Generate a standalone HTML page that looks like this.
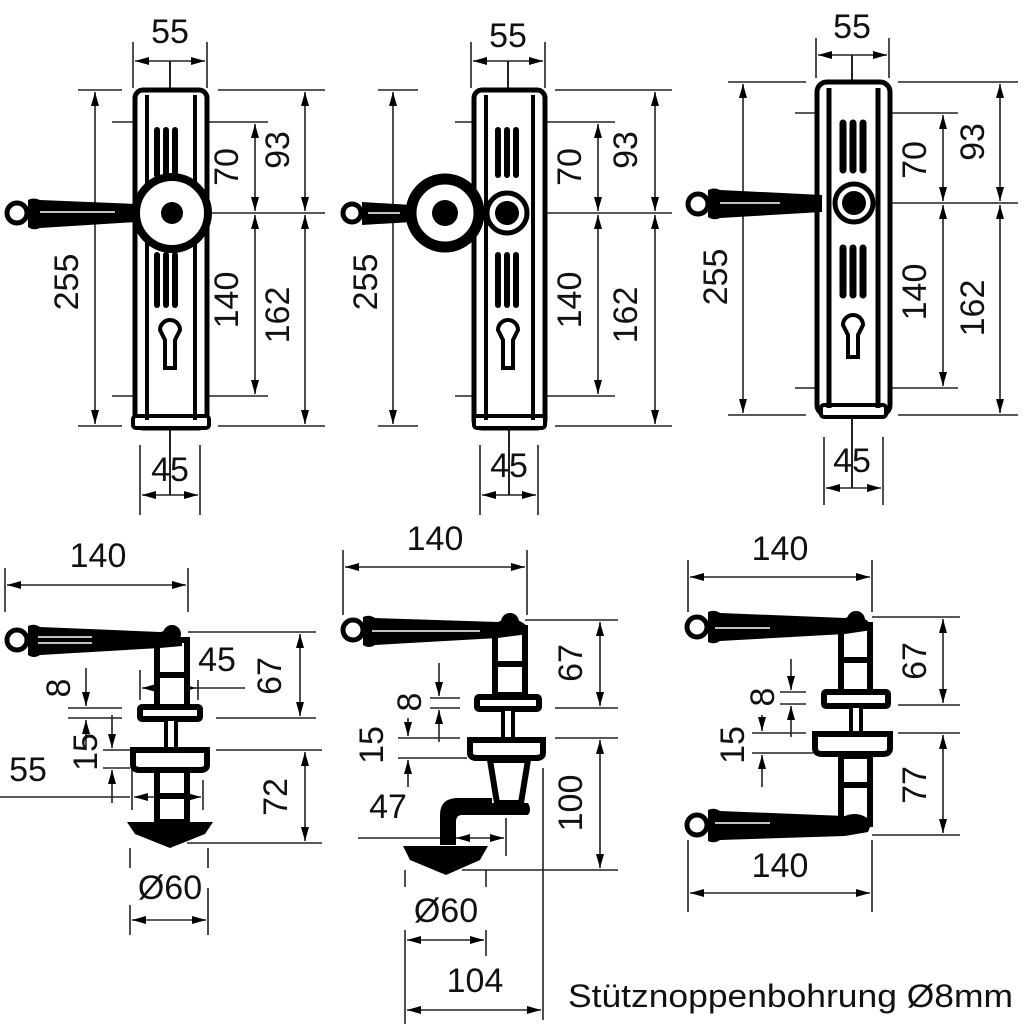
<!DOCTYPE html>
<html><head><meta charset="utf-8"><style>
html,body{margin:0;padding:0;background:#fff;}
svg{display:block;}
text{font-family:"Liberation Sans",sans-serif;font-size:34px;fill:#111;}
</style></head><body>
<svg width="1024" height="1024" viewBox="0 0 1024 1024" xmlns="http://www.w3.org/2000/svg">
<defs>
<marker id="a" viewBox="0 0 14 8" refX="14" refY="4" markerWidth="14" markerHeight="8" markerUnits="userSpaceOnUse" orient="auto-start-reverse"><path d="M0,0 L14,4 L0,8 Z" fill="#000"/></marker>
</defs>
<g stroke="#222" stroke-width="1.6" fill="none">
<!-- ===== TOP 1 ===== -->
<line x1="133" y1="42" x2="133" y2="88"/><line x1="207" y1="42" x2="207" y2="88"/>
<line x1="135" y1="61" x2="205" y2="61" marker-start="url(#a)" marker-end="url(#a)"/>
<line x1="170" y1="61" x2="170" y2="95" stroke-width="2"/>
<line x1="78" y1="90" x2="122" y2="90"/><line x1="78" y1="426" x2="122" y2="426"/>
<line x1="95" y1="92" x2="95" y2="424" marker-start="url(#a)" marker-end="url(#a)"/>
<line x1="218" y1="90" x2="325" y2="90"/><line x1="218" y1="426" x2="325" y2="426"/>
<line x1="112" y1="122" x2="268" y2="122"/><line x1="112" y1="396" x2="268" y2="396"/>
<line x1="185" y1="213" x2="325" y2="213"/>
<line x1="255" y1="124" x2="255" y2="211" marker-start="url(#a)" marker-end="url(#a)"/>
<line x1="255" y1="215" x2="255" y2="394" marker-start="url(#a)" marker-end="url(#a)"/>
<line x1="305" y1="92" x2="305" y2="211" marker-start="url(#a)" marker-end="url(#a)"/>
<line x1="305" y1="215" x2="305" y2="424" marker-start="url(#a)" marker-end="url(#a)"/>
<line x1="140" y1="445" x2="140" y2="515"/><line x1="200" y1="445" x2="200" y2="515"/>
<line x1="142" y1="495" x2="198" y2="495" marker-start="url(#a)" marker-end="url(#a)"/>
<line x1="170" y1="420" x2="170" y2="495" stroke-width="2"/>
<!-- ===== TOP 2 ===== -->
<line x1="471" y1="42" x2="471" y2="88"/><line x1="545" y1="42" x2="545" y2="88"/>
<line x1="473" y1="61" x2="543" y2="61" marker-start="url(#a)" marker-end="url(#a)"/>
<line x1="508" y1="61" x2="508" y2="95" stroke-width="2"/>
<line x1="378" y1="90" x2="418" y2="90"/><line x1="378" y1="426" x2="418" y2="426"/>
<line x1="393" y1="92" x2="393" y2="424" marker-start="url(#a)" marker-end="url(#a)"/>
<line x1="555" y1="90" x2="672" y2="90"/><line x1="555" y1="426" x2="672" y2="426"/>
<line x1="455" y1="122" x2="615" y2="122"/><line x1="455" y1="396" x2="615" y2="396"/>
<line x1="525" y1="213" x2="672" y2="213"/>
<line x1="598" y1="124" x2="598" y2="211" marker-start="url(#a)" marker-end="url(#a)"/>
<line x1="598" y1="215" x2="598" y2="394" marker-start="url(#a)" marker-end="url(#a)"/>
<line x1="655" y1="92" x2="655" y2="211" marker-start="url(#a)" marker-end="url(#a)"/>
<line x1="655" y1="215" x2="655" y2="424" marker-start="url(#a)" marker-end="url(#a)"/>
<line x1="480" y1="445" x2="480" y2="515"/><line x1="538" y1="445" x2="538" y2="515"/>
<line x1="482" y1="495" x2="536" y2="495" marker-start="url(#a)" marker-end="url(#a)"/>
<line x1="509" y1="420" x2="509" y2="495" stroke-width="2"/>
<!-- ===== TOP 3 ===== -->
<line x1="816" y1="38" x2="816" y2="78"/><line x1="889" y1="38" x2="889" y2="78"/>
<line x1="818" y1="55" x2="887" y2="55" marker-start="url(#a)" marker-end="url(#a)"/>
<line x1="852" y1="55" x2="852" y2="90" stroke-width="2"/>
<line x1="728" y1="82" x2="806" y2="82"/><line x1="728" y1="415" x2="806" y2="415"/>
<line x1="743" y1="84" x2="743" y2="413" marker-start="url(#a)" marker-end="url(#a)"/>
<line x1="898" y1="82" x2="1018" y2="82"/><line x1="898" y1="415" x2="1018" y2="415"/>
<line x1="795" y1="113" x2="958" y2="113"/><line x1="795" y1="388" x2="958" y2="388"/>
<line x1="870" y1="203" x2="1018" y2="203"/>
<line x1="943" y1="115" x2="943" y2="201" marker-start="url(#a)" marker-end="url(#a)"/>
<line x1="943" y1="205" x2="943" y2="386" marker-start="url(#a)" marker-end="url(#a)"/>
<line x1="1000" y1="84" x2="1000" y2="201" marker-start="url(#a)" marker-end="url(#a)"/>
<line x1="1000" y1="205" x2="1000" y2="413" marker-start="url(#a)" marker-end="url(#a)"/>
<line x1="824" y1="437" x2="824" y2="505"/><line x1="883" y1="437" x2="883" y2="505"/>
<line x1="826" y1="488" x2="881" y2="488" marker-start="url(#a)" marker-end="url(#a)"/>
<line x1="852" y1="345" x2="852" y2="488" stroke-width="2"/>
<!-- ===== BOTTOM 1 ===== -->
<line x1="5" y1="568" x2="5" y2="612"/><line x1="188" y1="568" x2="188" y2="612"/>
<line x1="7" y1="585" x2="186" y2="585" marker-start="url(#a)" marker-end="url(#a)"/>
<line x1="188" y1="632" x2="316" y2="632"/><line x1="216" y1="718" x2="316" y2="718"/>
<line x1="300" y1="634" x2="300" y2="716" marker-start="url(#a)" marker-end="url(#a)"/>
<line x1="216" y1="750" x2="322" y2="750"/><line x1="187" y1="843" x2="322" y2="843"/>
<line x1="305" y1="752" x2="305" y2="841" marker-start="url(#a)" marker-end="url(#a)"/>
<line x1="140" y1="670" x2="140" y2="700"/><line x1="198" y1="680" x2="198" y2="700"/>
<line x1="142" y1="688" x2="196" y2="688" marker-start="url(#a)" marker-end="url(#a)"/><line x1="196" y1="688" x2="245" y2="688"/>
<line x1="68" y1="708" x2="122" y2="708"/><line x1="68" y1="718" x2="122" y2="718"/>
<line x1="86" y1="668" x2="86" y2="706" marker-end="url(#a)"/><line x1="86" y1="750" x2="86" y2="720" marker-end="url(#a)"/>
<line x1="103" y1="750" x2="130" y2="750"/><line x1="103" y1="768" x2="130" y2="768"/>
<line x1="112" y1="715" x2="112" y2="748" marker-end="url(#a)"/><line x1="112" y1="803" x2="112" y2="770" marker-end="url(#a)"/>
<line x1="132" y1="770" x2="132" y2="810"/><line x1="203" y1="780" x2="203" y2="810"/>
<line x1="0" y1="797" x2="130" y2="797"/>
<line x1="134" y1="797" x2="201" y2="797" marker-start="url(#a)" marker-end="url(#a)"/>
<line x1="130" y1="848" x2="130" y2="868"/><line x1="208" y1="848" x2="208" y2="868"/>
<line x1="130" y1="905" x2="130" y2="935"/><line x1="208" y1="888" x2="208" y2="935"/>
<line x1="132" y1="920" x2="206" y2="920" marker-start="url(#a)" marker-end="url(#a)"/>
<!-- ===== BOTTOM 2 ===== -->
<line x1="343" y1="550" x2="343" y2="615"/><line x1="527" y1="550" x2="527" y2="615"/>
<line x1="345" y1="567" x2="525" y2="567" marker-start="url(#a)" marker-end="url(#a)"/>
<line x1="525" y1="620" x2="618" y2="620"/><line x1="555" y1="708" x2="618" y2="708"/>
<line x1="600" y1="622" x2="600" y2="706" marker-start="url(#a)" marker-end="url(#a)"/>
<line x1="555" y1="738" x2="618" y2="738"/><line x1="462" y1="870" x2="618" y2="870"/>
<line x1="600" y1="740" x2="600" y2="868" marker-start="url(#a)" marker-end="url(#a)"/>
<line x1="543" y1="768" x2="543" y2="1020"/>
<line x1="430" y1="698" x2="460" y2="698"/><line x1="430" y1="708" x2="460" y2="708"/>
<line x1="439" y1="663" x2="439" y2="696" marker-end="url(#a)"/><line x1="439" y1="742" x2="439" y2="710" marker-end="url(#a)"/>
<line x1="398" y1="738" x2="460" y2="738"/><line x1="398" y1="758" x2="467" y2="758"/>
<line x1="408" y1="718" x2="408" y2="736" marker-end="url(#a)"/><line x1="408" y1="787" x2="408" y2="760" marker-end="url(#a)"/>
<line x1="358" y1="838" x2="440" y2="838"/>
<line x1="456" y1="838" x2="504" y2="838" marker-start="url(#a)" marker-end="url(#a)"/>
<line x1="506" y1="818" x2="506" y2="856"/>
<line x1="405" y1="870" x2="405" y2="887"/><line x1="486" y1="870" x2="486" y2="887"/>
<line x1="405" y1="930" x2="405" y2="1024"/><line x1="486" y1="930" x2="486" y2="956"/>
<line x1="407" y1="940" x2="484" y2="940" marker-start="url(#a)" marker-end="url(#a)"/>
<line x1="407" y1="1010" x2="541" y2="1010" marker-start="url(#a)" marker-end="url(#a)"/>
<!-- ===== BOTTOM 3 ===== -->
<line x1="688" y1="560" x2="688" y2="612"/><line x1="872" y1="560" x2="872" y2="612"/>
<line x1="690" y1="577" x2="870" y2="577" marker-start="url(#a)" marker-end="url(#a)"/>
<line x1="872" y1="617" x2="960" y2="617"/><line x1="898" y1="705" x2="960" y2="705"/>
<line x1="943" y1="619" x2="943" y2="703" marker-start="url(#a)" marker-end="url(#a)"/>
<line x1="898" y1="733" x2="960" y2="733"/><line x1="872" y1="835" x2="960" y2="835"/>
<line x1="943" y1="735" x2="943" y2="833" marker-start="url(#a)" marker-end="url(#a)"/>
<line x1="780" y1="692" x2="806" y2="692"/><line x1="780" y1="704" x2="806" y2="704"/>
<line x1="791" y1="659" x2="791" y2="690" marker-end="url(#a)"/><line x1="791" y1="737" x2="791" y2="706" marker-end="url(#a)"/>
<line x1="752" y1="733" x2="806" y2="733"/><line x1="752" y1="753" x2="813" y2="753"/>
<line x1="762" y1="715" x2="762" y2="731" marker-end="url(#a)"/><line x1="762" y1="787" x2="762" y2="755" marker-end="url(#a)"/>
<line x1="688" y1="840" x2="688" y2="912"/><line x1="872" y1="840" x2="872" y2="912"/>
<line x1="690" y1="893" x2="870" y2="893" marker-start="url(#a)" marker-end="url(#a)"/>
</g>

<!-- ===== SHAPES TOP ===== -->
<g stroke="#000" fill="#fff">
<rect x="135" y="90" width="72" height="338" rx="8" stroke-width="5"/>
<rect x="133" y="416" width="76" height="12" rx="3" stroke-width="4"/>
<line x1="147" y1="95" x2="147" y2="420" stroke-width="4"/><line x1="195" y1="95" x2="195" y2="420" stroke-width="4"/>
<g stroke-width="6" stroke-linecap="round"><line x1="157" y1="130" x2="157" y2="175"/><line x1="166" y1="130" x2="166" y2="175"/><line x1="175" y1="130" x2="175" y2="175"/>
<line x1="157" y1="255" x2="157" y2="305"/><line x1="166" y1="255" x2="166" y2="305"/><line x1="175" y1="255" x2="175" y2="305"/></g>
<path d="M160 330 a10 10 0 1 1 20 0 l-5 10 v28 h-10 v-28 z" stroke-width="4"/>
<circle cx="172" cy="213" r="36" stroke-width="8"/>
<circle cx="172" cy="213" r="11" fill="#000" stroke-width="0"/>
<rect x="474" y="90" width="71" height="338" rx="8" stroke-width="5"/>
<rect x="474" y="416" width="71" height="12" rx="3" stroke-width="4"/>
<line x1="486" y1="95" x2="486" y2="420" stroke-width="4"/><line x1="533" y1="95" x2="533" y2="420" stroke-width="4"/>
<g stroke-width="6" stroke-linecap="round"><line x1="498" y1="130" x2="498" y2="175"/><line x1="507" y1="130" x2="507" y2="175"/><line x1="516" y1="130" x2="516" y2="175"/>
<line x1="498" y1="255" x2="498" y2="305"/><line x1="507" y1="255" x2="507" y2="305"/><line x1="516" y1="255" x2="516" y2="305"/></g>
<path d="M498 330 a10 10 0 1 1 20 0 l-5 10 v28 h-10 v-28 z" stroke-width="4"/>
<circle cx="507" cy="213" r="20" stroke-width="5"/>
<circle cx="507" cy="213" r="12" fill="#000" stroke-width="0"/>
<circle cx="445" cy="213" r="34" stroke-width="11"/>
<circle cx="445" cy="213" r="13" fill="#000" stroke-width="0"/>
<rect x="817" y="82" width="73" height="333" rx="10" stroke-width="5"/>
<rect x="821" y="405" width="65" height="12" rx="3" stroke-width="4"/>
<line x1="829" y1="88" x2="829" y2="408" stroke-width="5"/><line x1="878" y1="88" x2="878" y2="408" stroke-width="5"/>
<g stroke-width="7" stroke-linecap="round"><line x1="843" y1="123" x2="843" y2="170"/><line x1="853" y1="123" x2="853" y2="170"/><line x1="863" y1="123" x2="863" y2="170"/>
<line x1="843" y1="248" x2="843" y2="295"/><line x1="853" y1="248" x2="853" y2="295"/><line x1="863" y1="248" x2="863" y2="295"/></g>
<path d="M843 325 a10 10 0 1 1 20 0 l-5 10 v22 h-10 v-22 z" stroke-width="4"/>
<circle cx="854" cy="203" r="19" stroke-width="5"/>
<circle cx="854" cy="203" r="12" fill="#000" stroke-width="0"/>
</g>
<!-- top levers -->
<g>
<path d="M28 200 Q33 197 40 200 L136 204 L136 222 L40 228 Q33 231 28 227 Z" fill="#000"/>
<circle cx="17" cy="213" r="10" fill="#fff" stroke="#000" stroke-width="5"/>
<line x1="40" y1="212" x2="115" y2="212" stroke="#fff" stroke-width="1.5"/>
<path d="M362 202 L412 205 L412 222 L362 225 Z" fill="#000"/>
<circle cx="352" cy="213" r="9" fill="#fff" stroke="#000" stroke-width="5"/>
<line x1="368" y1="213" x2="400" y2="213" stroke="#fff" stroke-width="1.5"/>
<path d="M708 190 Q714 187 720 190 L822 195 L822 212 L720 218 Q714 221 708 217 Z" fill="#000"/>
<circle cx="698" cy="204" r="10" fill="#fff" stroke="#000" stroke-width="5"/>
<line x1="720" y1="203" x2="780" y2="203" stroke="#fff" stroke-width="1.5"/>
</g>

<!-- ===== SHAPES BOTTOM ===== -->
<g stroke="#000" fill="#fff">
<rect x="157" y="640" width="30" height="67" stroke-width="6"/><line x1="157" y1="675" x2="187" y2="675" stroke-width="6"/>
<rect x="140" y="707" width="60" height="12" rx="2" stroke-width="6"/>
<rect x="166" y="719" width="10" height="31" stroke-width="4"/>
<path d="M133 750 H207 V765 Q207 770 200 770 H140 Q133 770 133 765 Z" stroke-width="6"/>
<rect x="157" y="770" width="30" height="52" stroke-width="6"/><line x1="157" y1="796" x2="187" y2="796" stroke-width="6"/>
<path d="M127 822 L213 822 L205 834 L170 848 L135 834 Z" fill="#000" stroke-width="0"/>
<rect x="495" y="628" width="30" height="67" stroke-width="6"/><line x1="495" y1="664" x2="525" y2="664" stroke-width="6"/>
<rect x="477" y="697" width="62" height="12" rx="2" stroke-width="6"/>
<rect x="503" y="709" width="10" height="30" stroke-width="4"/>
<path d="M470 740 H543 V753 Q543 758 536 758 H477 Q470 758 470 753 Z" stroke-width="6"/>
<path d="M490 760 L528 760 L521 803 L497 803 Z" stroke-width="6"/>
<path d="M488 803 H528 Q532 810 528 815 H488 Z" fill="#000" stroke-width="0"/>
<path d="M440 845 V815 Q440 798 458 798 H492 V815 H462 Q456 815 456 822 V845 Z" fill="#000" stroke-width="0"/>
<path d="M403 846 L488 846 L480 860 L446 875 L410 860 Z" fill="#000" stroke-width="0"/>
<rect x="841" y="625" width="29" height="67" stroke-width="6"/><line x1="841" y1="660" x2="870" y2="660" stroke-width="6"/>
<rect x="824" y="692" width="64" height="14" rx="2" stroke-width="6"/>
<rect x="851" y="706" width="10" height="28" stroke-width="4"/>
<path d="M815 734 H890 V748 Q890 754 883 754 H822 Q815 754 815 748 Z" stroke-width="6"/>
<rect x="841" y="756" width="29" height="68" stroke-width="6"/><line x1="841" y1="785" x2="870" y2="785" stroke-width="6"/>
</g>
<g fill="#000">
<path d="M28 626 Q34 623 40 627 L160 632 Q175 628 182 640 L182 646 L160 648 L40 655 Q34 659 28 655 Z"/>
<circle cx="172" cy="634" r="9"/>
<circle cx="17" cy="640" r="10" fill="#fff" stroke="#000" stroke-width="5"/>
<line x1="38" y1="637" x2="92" y2="637" stroke="#fff" stroke-width="1.5"/><line x1="38" y1="643" x2="92" y2="643" stroke="#fff" stroke-width="1.5"/>
<path d="M363 617 Q369 614 375 618 L498 622 Q515 614 528 627 L528 634 L498 638 L375 645 Q369 649 363 645 Z"/>
<circle cx="510" cy="622" r="9"/>
<circle cx="353" cy="630" r="10" fill="#fff" stroke="#000" stroke-width="5"/>
<line x1="372" y1="631" x2="480" y2="631" stroke="#fff" stroke-width="1.5"/>
<path d="M708 612 Q714 609 720 613 L845 618 Q860 612 872 625 L872 630 L845 634 L720 641 Q714 645 708 642 Z"/>
<circle cx="856" cy="620" r="9"/>
<circle cx="697" cy="627" r="10" fill="#fff" stroke="#000" stroke-width="5"/>
<line x1="715" y1="628" x2="770" y2="628" stroke="#fff" stroke-width="1.5"/>
<path d="M708 810 Q714 807 720 811 L845 816 Q860 810 872 822 L868 832 L845 836 L720 840 Q714 844 708 841 Z"/>
<circle cx="697" cy="825" r="10" fill="#fff" stroke="#000" stroke-width="5"/>
<line x1="715" y1="823" x2="770" y2="823" stroke="#fff" stroke-width="1.5"/>
</g>

<!-- ===== TEXT ===== -->
<text x="170" y="43" text-anchor="middle">55</text>
<text x="508" y="47" text-anchor="middle">55</text>
<text x="852" y="38" text-anchor="middle">55</text>
<text x="170" y="481" text-anchor="middle">45</text>
<text x="509" y="477" text-anchor="middle">45</text>
<text x="852" y="472" text-anchor="middle">45</text>
<g>
<text transform="translate(78,282) rotate(-90)" text-anchor="middle">255</text>
<text transform="translate(238,167) rotate(-90)" text-anchor="middle">70</text>
<text transform="translate(238,300) rotate(-90)" text-anchor="middle">140</text>
<text transform="translate(289,150) rotate(-90)" text-anchor="middle">93</text>
<text transform="translate(289,315) rotate(-90)" text-anchor="middle">162</text>
<text transform="translate(377,282) rotate(-90)" text-anchor="middle">255</text>
<text transform="translate(581,167) rotate(-90)" text-anchor="middle">70</text>
<text transform="translate(581,300) rotate(-90)" text-anchor="middle">140</text>
<text transform="translate(637,150) rotate(-90)" text-anchor="middle">93</text>
<text transform="translate(637,315) rotate(-90)" text-anchor="middle">162</text>
<text transform="translate(727,277) rotate(-90)" text-anchor="middle">255</text>
<text transform="translate(926,160) rotate(-90)" text-anchor="middle">70</text>
<text transform="translate(926,292) rotate(-90)" text-anchor="middle">140</text>
<text transform="translate(984,142) rotate(-90)" text-anchor="middle">93</text>
<text transform="translate(984,308) rotate(-90)" text-anchor="middle">162</text>
</g>
<text x="98" y="567" text-anchor="middle">140</text>
<text x="435" y="550" text-anchor="middle">140</text>
<text x="780" y="560" text-anchor="middle">140</text>
<text x="780" y="877" text-anchor="middle">140</text>
<text x="217" y="671" text-anchor="middle">45</text>
<text x="28" y="781" text-anchor="middle">55</text>
<text transform="translate(281,676) rotate(-90)" text-anchor="middle">67</text>
<text transform="translate(287,797) rotate(-90)" text-anchor="middle">72</text>
<text transform="translate(70,688) rotate(-90)" text-anchor="middle">8</text>
<text transform="translate(97,752) rotate(-90)" text-anchor="middle">15</text>
<text x="170" y="899" text-anchor="middle">Ø60</text>
<text transform="translate(582,663) rotate(-90)" text-anchor="middle">67</text>
<text transform="translate(582,803) rotate(-90)" text-anchor="middle">100</text>
<text transform="translate(421,702) rotate(-90)" text-anchor="middle">8</text>
<text transform="translate(383,745) rotate(-90)" text-anchor="middle">15</text>
<text x="388" y="818" text-anchor="middle">47</text>
<text x="446" y="922" text-anchor="middle">Ø60</text>
<text x="475" y="992" text-anchor="middle">104</text>
<text transform="translate(926,661) rotate(-90)" text-anchor="middle">67</text>
<text transform="translate(926,785) rotate(-90)" text-anchor="middle">77</text>
<text transform="translate(774,697) rotate(-90)" text-anchor="middle">8</text>
<text transform="translate(744,745) rotate(-90)" text-anchor="middle">15</text>
<text x="568" y="1007" style="font-size:32px" textLength="445" lengthAdjust="spacingAndGlyphs">Stütznoppenbohrung Ø8mm</text>
</svg>
</body></html>
